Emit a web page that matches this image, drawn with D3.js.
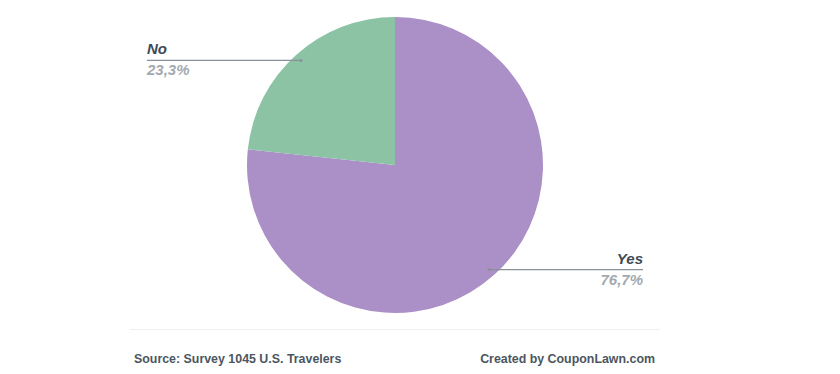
<!DOCTYPE html>
<html><head><meta charset="utf-8">
<script src="https://cdn.jsdelivr.net/npm/d3@7"></script>
<style>body{margin:0;background:#fff;}svg{display:block;font-family:"Liberation Sans",Arial,sans-serif;}</style>
</head><body>
<svg id="c" width="840" height="374"></svg>
<script>
const categories = ["Yes", "No"];
const values = [76.7, 23.3];
const valueLabels = ["76,7%", "23,3%"];
const colors = ["#ab8fc7", "#8cc3a5"];
const sourceText = "Source: Survey 1045 U.S. Travelers";
const creditText = "Created by CouponLawn.com";

const svg = d3.select("#c");
const cx = 395, cy = 165, r = 148;
const g = svg.append("g").attr("transform", `translate(${cx},${cy})`);
const pie = d3.pie().sort(null).value(d => d)(values);
const arc = d3.arc().innerRadius(0).outerRadius(r);
g.selectAll("path").data(pie).enter().append("path")
  .attr("d", arc).attr("fill", (d, i) => colors[i]);

const pointArc = d3.arc().innerRadius(r * 0.95).outerRadius(r * 0.95);
const labelX = [643, 147];
pie.forEach((d, i) => {
  const [px, py] = pointArc.centroid(d);
  const ax = cx + px, ay = cy + py;
  const right = i === 0;
  svg.append("line").attr("x1", ax).attr("y1", ay).attr("x2", labelX[i]).attr("y2", ay)
    .attr("stroke", "#8a9097").attr("stroke-width", 1.2);
  svg.append("circle").attr("cx", ax).attr("cy", ay).attr("r", 1.5).attr("fill", "#8a9097");
  svg.append("text").attr("x", labelX[i]).attr("y", ay - 6)
    .attr("text-anchor", right ? "end" : "start")
    .attr("font-size", 15).attr("font-weight", "bold").attr("font-style", "italic")
    .attr("fill", "#3e4a56").text(categories[i]);
  svg.append("text").attr("x", labelX[i]).attr("y", ay + 15)
    .attr("text-anchor", right ? "end" : "start")
    .attr("font-size", 15).attr("font-weight", "bold").attr("font-style", "italic")
    .attr("fill", "#a3a9b0").text(valueLabels[i]);
});

svg.append("line").attr("x1", 130).attr("x2", 660).attr("y1", 329.5).attr("y2", 329.5)
  .attr("stroke", "#eef0f2").attr("stroke-width", 1);
svg.append("text").attr("x", 134).attr("y", 363).attr("font-size", 12.4).attr("font-weight", "bold")
  .attr("fill", "#4b5661").text(sourceText);
svg.append("text").attr("x", 655).attr("y", 363).attr("text-anchor", "end").attr("font-size", 12.4).attr("font-weight", "bold")
  .attr("fill", "#4b5661").text(creditText);
</script>
</body></html>
